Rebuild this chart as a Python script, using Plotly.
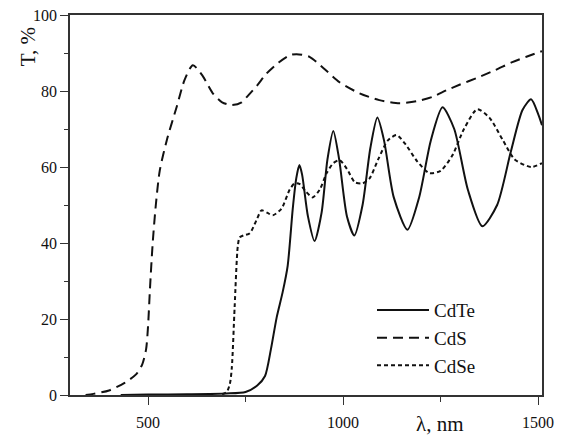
import plotly.graph_objects as go

# ---- data ----
cdte_x = [430, 500, 600, 700, 750, 780, 800, 815, 830, 845, 858, 871, 880, 888, 895, 910, 927, 945, 960,
          975, 990, 1010, 1029, 1050, 1070, 1088, 1105, 1130, 1165, 1195, 1225, 1255, 1285, 1320, 1357,
          1395, 1430, 1460, 1482, 1500, 1510]
cdte_y = [0, 0.1, 0.2, 0.4, 0.8, 2.5, 5, 12, 20.5, 27, 34, 49, 57, 60.5, 58, 47, 40.5, 48, 62,
          69.5, 62, 47, 42, 50, 65, 73, 67, 52, 43.5, 52, 67, 75.7, 70, 54, 44.4,
          50, 64, 75, 77.8, 74, 71]

cds_x = [340, 360, 400, 440, 470, 485, 495, 500, 505, 512, 520, 530, 548, 574, 594, 615, 640, 666, 690,
         715, 740, 753, 780, 804, 835, 863, 881, 914, 950, 991, 1042, 1093, 1145, 1188, 1230, 1265,
         1300, 1342, 1390, 1434, 1470, 1510]
cds_y = [0, 0.3, 1.2, 3.2, 5.5, 8, 12, 18, 28, 40, 50, 59, 67, 76, 83, 86.8, 84, 79.4, 77,
         76.3, 77, 78.4, 81.5, 84.6, 87.5, 89.4, 89.7, 89, 86, 82.3, 79.4, 77.6, 76.8, 77.3, 78.5, 80.2,
         81.7, 83.4, 85.5, 87.6, 89, 90.5]

cdse_x = [690, 702, 710, 715, 722, 730, 735, 745, 761, 778, 791, 805, 820, 842, 863, 876, 889, 905, 922,
          940, 958, 975, 991, 1010, 1030, 1050, 1068, 1090, 1115, 1137, 1160, 1190, 1221, 1250, 1280,
          1310, 1344, 1375, 1410, 1440, 1482, 1510]
cdse_y = [0.2, 0.8, 3, 7.4, 23, 39, 41.5, 42, 42.6, 46, 48.6, 48, 47.3, 49, 54, 55.7, 55.5, 53.5, 52,
          54, 58.4, 61, 61.8, 59.5, 56, 55.7, 57, 62, 67, 68.4, 66, 61.5, 58.4, 59, 63,
          70, 75.2, 73, 67, 62, 60, 61]

x_ticks = [500, 1000, 1500]
y_ticks = [0, 20, 40, 60, 80, 100]

FONT = "Liberation Serif"
INK = "#111111"

fig = go.Figure()
fig.add_trace(go.Scatter(x=cdte_x, y=cdte_y, name="CdTe", mode="lines",
                         line=dict(color=INK, width=2, shape="spline", smoothing=0.7)))
fig.add_trace(go.Scatter(x=cds_x, y=cds_y, name="CdS", mode="lines",
                         line=dict(color=INK, width=2, dash="10px,6px", shape="spline", smoothing=0.7)))
fig.add_trace(go.Scatter(x=cdse_x, y=cdse_y, name="CdSe", mode="lines",
                         line=dict(color=INK, width=2, dash="4px,3px", shape="spline", smoothing=0.7)))

axis_common = dict(showline=True, linecolor="#333333", linewidth=1.5, mirror=True,
                   ticks="outside", ticklen=8, tickwidth=1.3, tickcolor="#333333",
                   showgrid=False, zeroline=False, automargin=False,
                   tickfont=dict(family=FONT, size=16, color=INK))

fig.update_xaxes(range=[300, 1510], tickvals=x_ticks, ticklabelstandoff=4,
                 minor=dict(ticks="outside", ticklen=5, tickwidth=1.3, tickcolor="#333333",
                            tickvals=[750, 1250]),
                 **axis_common)
fig.update_yaxes(range=[0, 100], tickvals=y_ticks,
                 minor=dict(ticks="outside", ticklen=4, tickwidth=1.3, tickcolor="#333333",
                            tickvals=[10, 30, 50, 70, 90]),
                 **axis_common)

fig.add_annotation(text="T, %", xref="paper", yref="paper", x=(28 - 70) / 472, y=(395 - 47) / 380.3,
                   xanchor="center", yanchor="middle",
                   showarrow=False, textangle=-90, font=dict(family=FONT, size=21, color=INK))
fig.add_annotation(text="λ, nm", xref="paper", yref="paper", x=(440 - 70) / 472, y=(395 - 424) / 380.3,
                   xanchor="center", yanchor="middle",
                   showarrow=False, font=dict(family=FONT, size=21, color=INK))

fig.update_layout(
    width=568, height=439,
    margin=dict(l=70, r=26, t=15, b=44),
    paper_bgcolor="white", plot_bgcolor="white",
    showlegend=True,
    legend=dict(x=(372 - 70) / 472, y=(395 - 291) / 380.3, xanchor="left", yanchor="top",
                bgcolor="rgba(0,0,0,0)", borderwidth=0, tracegroupgap=0, itemwidth=52,
                font=dict(family=FONT, size=19, color=INK)),
)

fig.write_html("out.html")
